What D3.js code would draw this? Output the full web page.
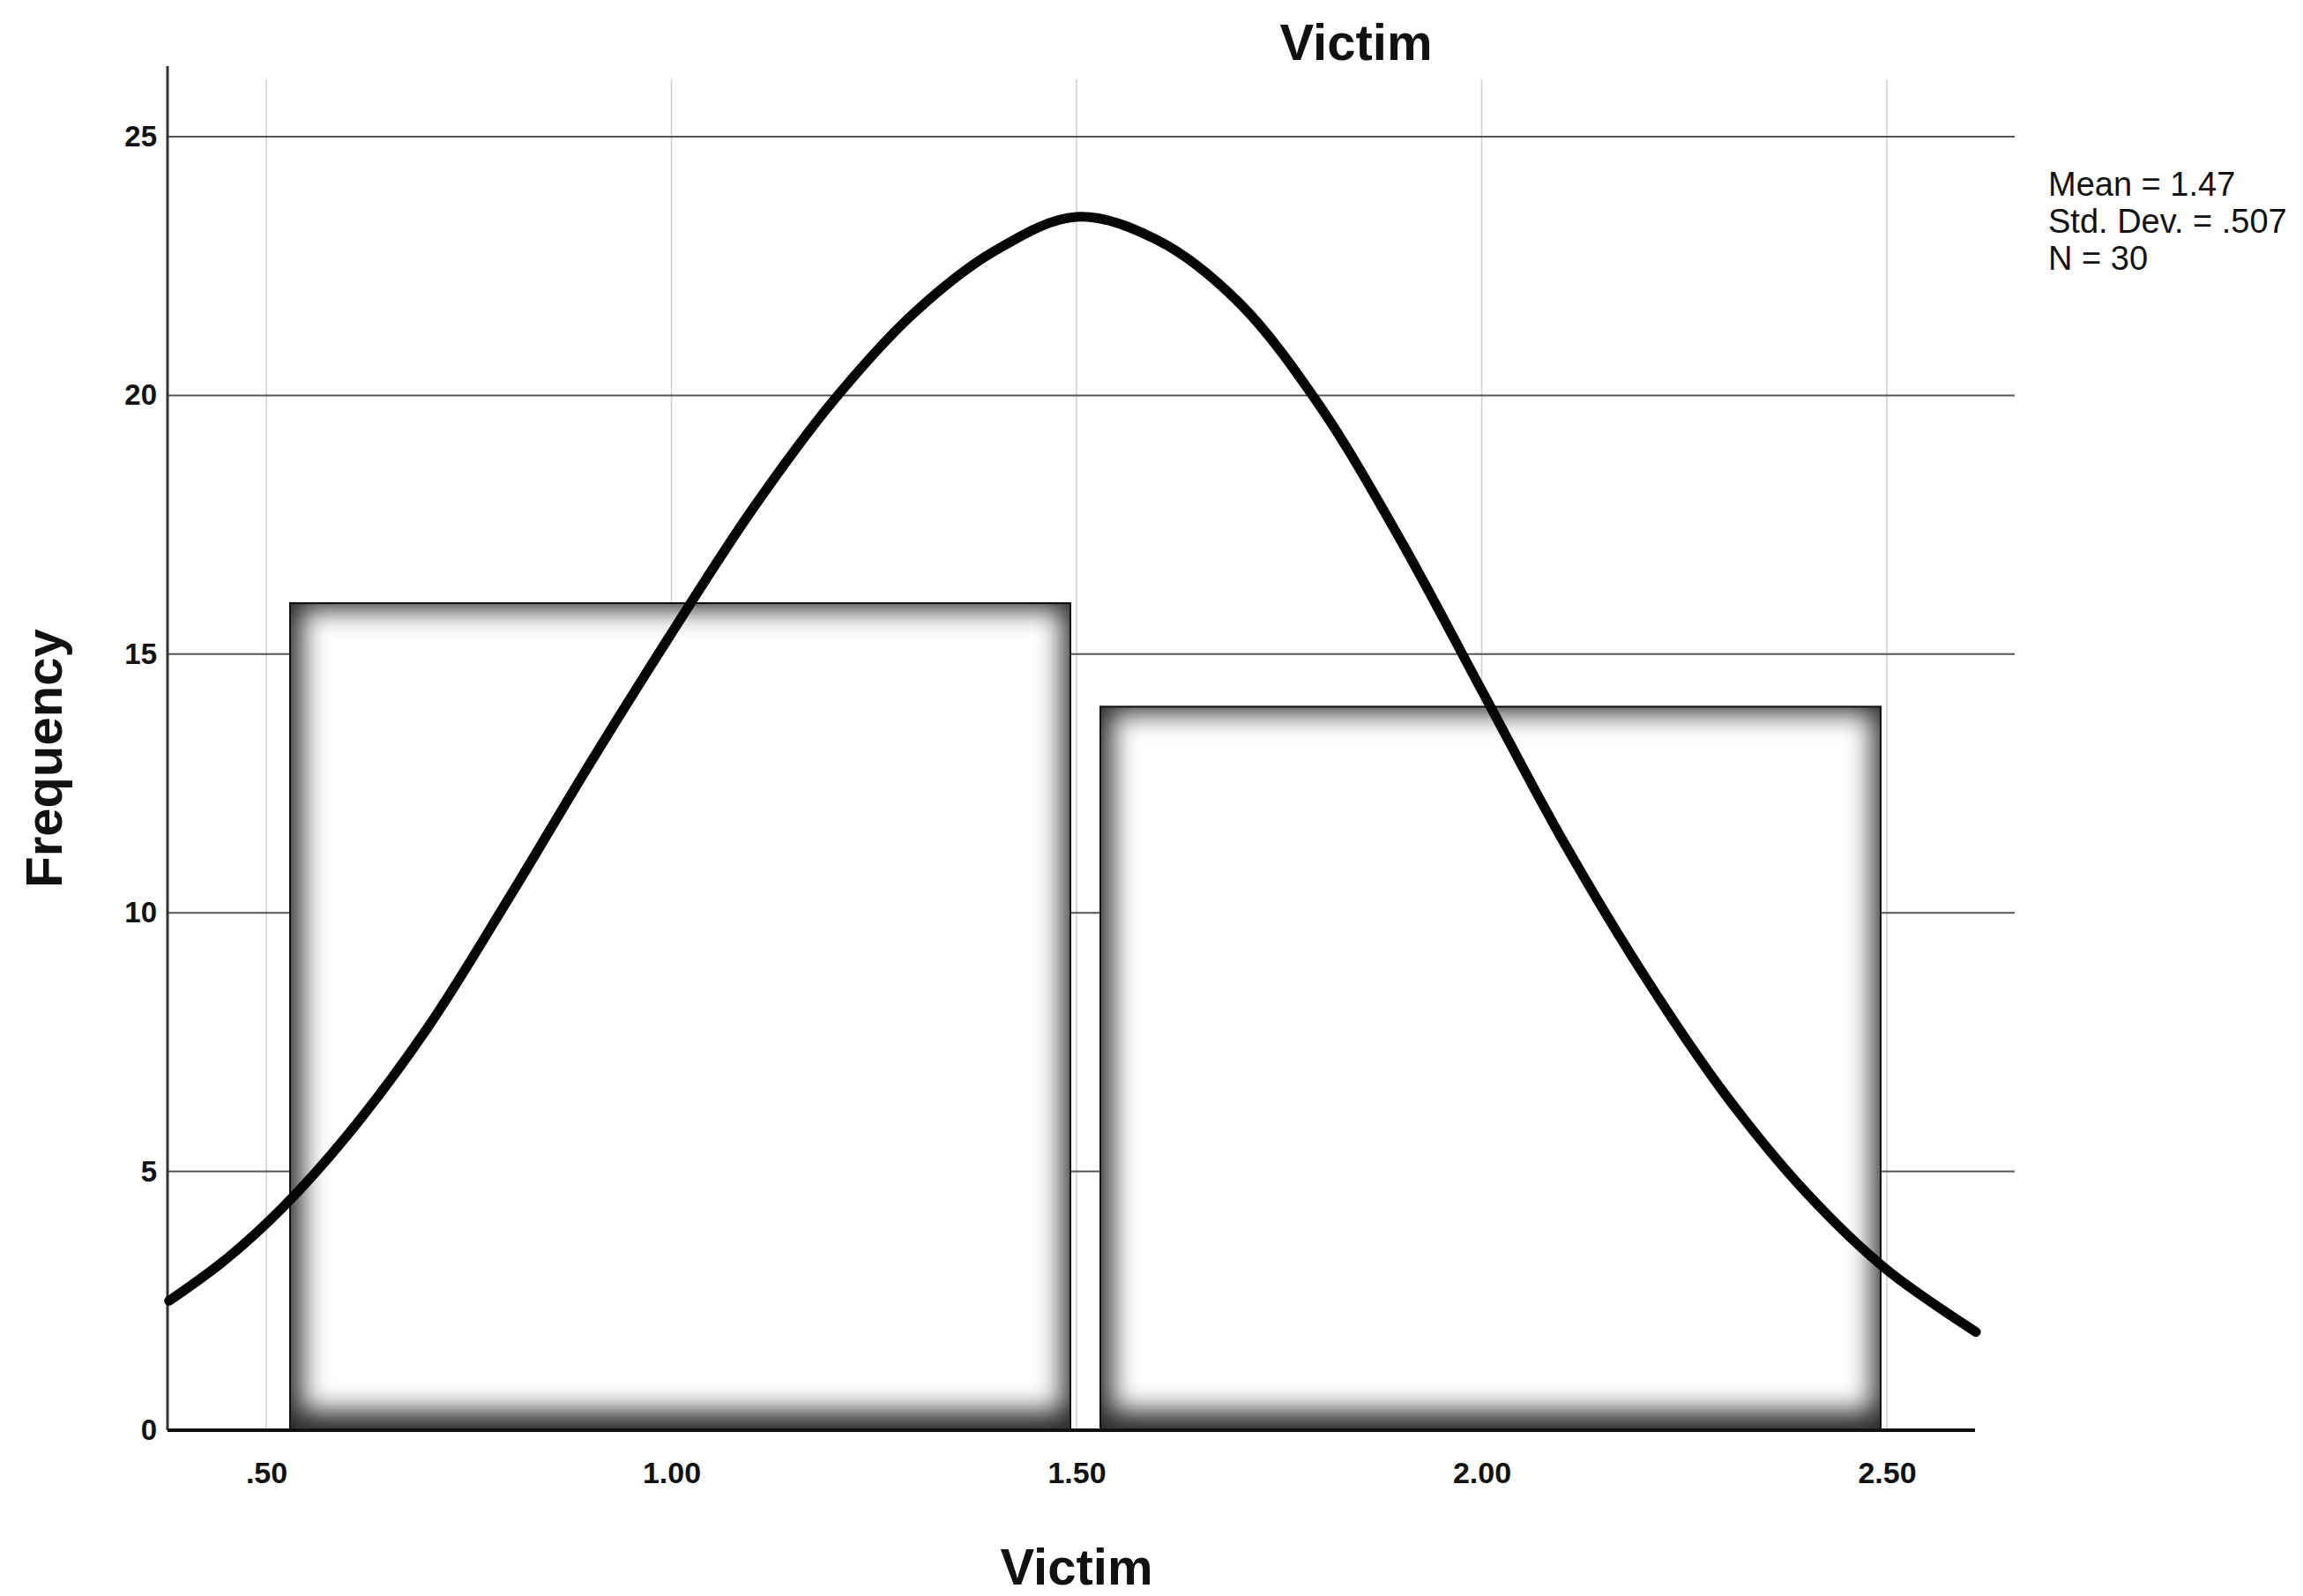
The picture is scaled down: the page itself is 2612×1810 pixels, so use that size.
<!DOCTYPE html>
<html>
<head>
<meta charset="utf-8">
<script src="https://cdn.jsdelivr.net/npm/d3@7"></script>
<style>
  body { margin: 0; background: #fff; }
  svg { display: block; }
  text { font-family: "Liberation Sans", Arial, sans-serif; fill: #111; }
</style>
</head>
<body>
<svg id="chart"></svg>
<script>
(() => {

  // histogram of Victim (SPSS output, scanned)
  const binStarts = [0.5, 1.5];
  const binEnds = [1.5, 2.5];
  const frequencies = [16, 14];

  const xTicks = [0.5, 1.0, 1.5, 2.0, 2.5];
  const xTickLabels = ['.50', '1.00', '1.50', '2.00', '2.50'];
  const yTicks = [0, 5, 10, 15, 20, 25];

  // normal curve
  const curveX = [0.38, 0.45, 0.52, 0.60, 0.70, 0.80, 0.90, 1.00, 1.10, 1.20, 1.30, 1.40, 1.50,
                  1.60, 1.70, 1.80, 1.90, 2.00, 2.10, 2.20, 2.30, 2.40, 2.50, 2.61];
  const curveY = [2.5, 3.3, 4.3, 5.7, 7.8, 10.3, 12.9, 15.4, 17.8, 19.9, 21.6, 22.8, 23.45,
                  23.0, 21.8, 19.8, 17.2, 14.3, 11.4, 8.8, 6.5, 4.6, 3.1, 1.9];

  const statsLines = ['Mean = 1.47', 'Std. Dev. = .507', 'N = 30'];

  document.addEventListener("DOMContentLoaded", (event) => {
    drawChart();
  });

  function drawChart(){
    const svgWidth  = 2612;
    const svgHeight = 1810;

    const svg = d3.select('#chart')
    .attr('width', svgWidth)
    .attr('height', svgHeight);

    const x = d3.scaleLinear()
    .domain([0.5, 2.5])
    .range([302, 2140]);

    const y = d3.scaleLinear()
    .domain([0, 25])
    .range([1622, 155]);

    const axisLeftX = 190;
    const axisRightX = 2240;
    const gridRightX = 2285;
    const plotTop = 75;

    // bar shading: dark rim fading to white
    const defs = svg.append('defs');
    defs.append('filter')
    .attr('id', 'soft')
    .attr('x', '-20%').attr('y', '-20%')
    .attr('width', '140%').attr('height', '140%')
    .append('feGaussianBlur')
    .attr('stdDeviation', 15);

    // vertical grid
    svg.append('g')
    .selectAll('line')
    .data(xTicks)
    .enter()
    .append('line')
    .attr('x1', d => x(d)).attr('x2', d => x(d))
    .attr('y1', plotTop + 15).attr('y2', y(0))
    .attr('stroke', '#d0d0d0')
    .attr('stroke-width', 1.5);

    // horizontal grid
    svg.append('g')
    .selectAll('line')
    .data(yTicks.filter(d => d > 0))
    .enter()
    .append('line')
    .attr('x1', axisLeftX).attr('x2', gridRightX)
    .attr('y1', d => y(d)).attr('y2', d => y(d))
    .attr('stroke', '#555')
    .attr('stroke-width', 2);

    // bars
    const bars = frequencies.map((f, i) => ({
      x0: x(binStarts[i]) + 26,
      x1: x(binEnds[i]) - 6,
      y0: y(f),
      y1: y(0)
    }));

    bars.forEach((b, i) => {
      defs.append('clipPath')
      .attr('id', 'clip' + i)
      .append('rect')
      .attr('x', b.x0).attr('y', b.y0)
      .attr('width', b.x1 - b.x0).attr('height', b.y1 - b.y0);

      const g = svg.append('g').attr('clip-path', `url(#clip${i})`);
      g.append('rect')
      .attr('x', b.x0).attr('y', b.y0)
      .attr('width', b.x1 - b.x0).attr('height', b.y1 - b.y0)
      .attr('fill', '#2a2a2a');
      g.append('rect')
      .attr('x', b.x0 + 14).attr('y', b.y0 + 8)
      .attr('width', b.x1 - b.x0 - 24).attr('height', b.y1 - b.y0 - 30)
      .attr('fill', '#fff')
      .attr('filter', 'url(#soft)');
      g.append('rect')
      .attr('x', b.x0).attr('y', b.y0)
      .attr('width', b.x1 - b.x0).attr('height', b.y1 - b.y0)
      .attr('fill', 'none')
      .attr('stroke', '#111')
      .attr('stroke-width', 4);
    });

    // axis lines
    svg.append('line')
    .attr('x1', axisLeftX).attr('x2', axisLeftX)
    .attr('y1', plotTop).attr('y2', y(0))
    .attr('stroke', '#333').attr('stroke-width', 3);

    svg.append('line')
    .attr('x1', axisLeftX).attr('x2', axisRightX)
    .attr('y1', y(0)).attr('y2', y(0))
    .attr('stroke', '#111').attr('stroke-width', 4);

    // tick labels
    const yAxis = svg.append('g')
    .attr('transform', `translate(${axisLeftX - 8},0)`)
    .call(d3.axisLeft(y).tickValues(yTicks).tickSize(0).tickPadding(4));
    yAxis.select('.domain').remove();
    yAxis.selectAll('text')
    .attr('font-size', 33)
    .attr('font-weight', 'bold')
    .attr('font-family', '"Liberation Sans", Arial, sans-serif')
    .attr('fill', '#111');

    const xAxis = svg.append('g')
    .attr('transform', `translate(0,${y(0)})`)
    .call(d3.axisBottom(x).tickValues(xTicks).tickFormat((d, i) => xTickLabels[i]).tickSize(0).tickPadding(36));
    xAxis.select('.domain').remove();
    xAxis.selectAll('text')
    .attr('font-size', 34)
    .attr('font-family', '"Liberation Sans Narrow", "Liberation Sans", Arial, sans-serif')
    .attr('font-weight', 'bold')
    .attr('fill', '#111');

    // normal curve
    const line = d3.line()
    .x((d, i) => x(curveX[i]))
    .y(d => y(d))
    .curve(d3.curveCatmullRom);

    svg.append('path')
    .datum(curveY)
    .attr('d', line)
    .attr('fill', 'none')
    .attr('stroke', '#050505')
    .attr('stroke-width', 11)
    .attr('stroke-linecap', 'round');

    // titles
    svg.append('text')
    .text('Victim')
    .attr('x', 1538).attr('y', 68)
    .attr('text-anchor', 'middle')
    .attr('font-size', 58)
    .attr('font-weight', 'bold');

    svg.append('text')
    .text('Victim')
    .attr('x', 1221).attr('y', 1797)
    .attr('text-anchor', 'middle')
    .attr('font-size', 58)
    .attr('font-weight', 'bold');

    svg.append('text')
    .text('Frequency')
    .attr('transform', 'translate(70,860) rotate(-90)')
    .attr('text-anchor', 'middle')
    .attr('font-size', 58)
    .attr('font-weight', 'bold');

    // stats box
    svg.append('g')
    .selectAll('text')
    .data(statsLines)
    .enter()
    .append('text')
    .text(d => d)
    .attr('x', 2323)
    .attr('y', (d, i) => 222 + i * 42)
    .attr('font-size', 38);
  }

})();
</script>
</body>
</html>
